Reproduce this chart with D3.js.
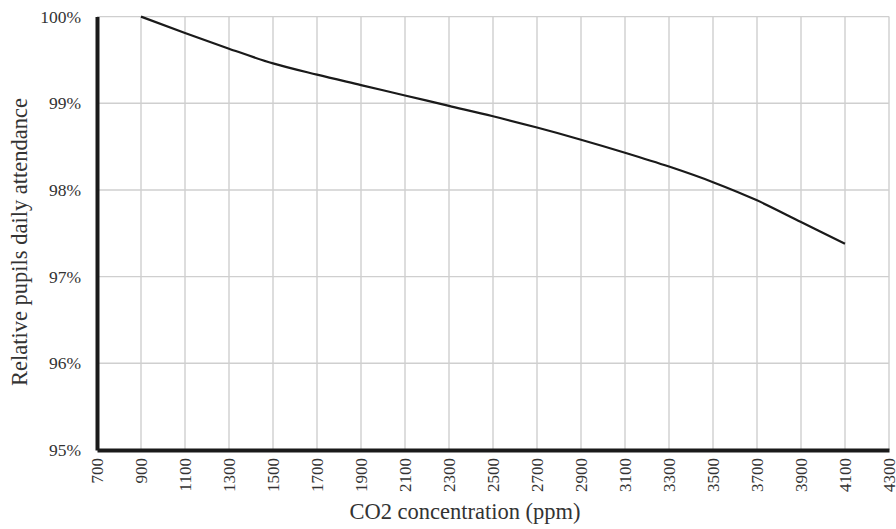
<!DOCTYPE html>
<html>
<head>
<meta charset="utf-8">
<script src="https://cdn.jsdelivr.net/npm/d3@7"></script>
<style>
body { margin: 0; background: #fff; }
text { font-family: "Liberation Serif", "DejaVu Serif", serif; fill: #333; }
</style>
</head>
<body>
<svg></svg>
<script>
const width = 896;
const height = 529;

// data
const co2 = [900, 1100, 1300, 1500, 1700, 1900, 2100, 2300, 2500, 2700, 2900, 3100, 3300, 3500, 3700, 3900, 4100];
const attendance = [100, 99.81, 99.63, 99.46, 99.33, 99.21, 99.09, 98.97, 98.85, 98.72, 98.58, 98.43, 98.27, 98.09, 97.88, 97.63, 97.38];
const xTicks = d3.range(700, 4301, 200);
const yTicks = [95, 96, 97, 98, 99, 100];

const margin = {left: 97, right: 7, top: 16.6, bottom: 79};

const svg = d3.select('svg')
    .attr('width', width).attr('height', height);

const x = d3.scaleLinear().domain([700, 4300]).range([margin.left, width - margin.right]);
const y = d3.scaleLinear().domain([95, 100]).range([height - margin.bottom, margin.top]);

// grid
svg.append('g')
    .selectAll('line')
    .data(xTicks.slice(1))
    .enter().append('line')
    .attr('x1', d => x(d)).attr('x2', d => x(d))
    .attr('y1', y(100)).attr('y2', y(95))
    .style('stroke', '#cfcfcf').style('stroke-width', 1.4);

svg.append('g')
    .selectAll('line')
    .data(yTicks.slice(1))
    .enter().append('line')
    .attr('x1', x(700)).attr('x2', x(4300))
    .attr('y1', d => y(d)).attr('y2', d => y(d))
    .style('stroke', '#cfcfcf').style('stroke-width', 1.4);

// axes
const yAxis = svg.append('g')
    .attr('transform', `translate(${x(700)},0)`)
    .call(d3.axisLeft(y).tickValues(yTicks).tickSize(0).tickPadding(16).tickFormat(d => d + '%'));
yAxis.select('.domain').style('stroke', '#1a1a1a').style('stroke-width', 4);
yAxis.selectAll('text').style('font-size', '17.5px').style('font-family', '"Liberation Serif", serif').attr('fill', '#333');

const xAxis = svg.append('g')
    .attr('transform', `translate(0,${y(95)})`)
    .call(d3.axisBottom(x).tickValues(xTicks).tickSize(0).tickFormat(d3.format('d')));
xAxis.select('.domain').style('stroke', '#1a1a1a').style('stroke-width', 4);
xAxis.selectAll('text')
    .style('font-size', '17px').style('font-family', '"Liberation Serif", serif').attr('fill', '#333')
    .attr('text-anchor', 'end')
    .attr('transform', 'rotate(-90)')
    .attr('x', -8).attr('y', 0).attr('dy', '0.35em');

// curve
const line = d3.line()
    .x((d, i) => x(co2[i]))
    .y(d => y(d))
    .curve(d3.curveMonotoneX);

svg.append('path')
    .datum(attendance)
    .attr('d', line)
    .style('fill', 'none')
    .style('stroke', '#1a1a1a')
    .style('stroke-width', 2.2);

// titles
svg.append('text')
    .attr('x', 465)
    .attr('y', 519)
    .attr('text-anchor', 'middle')
    .style('font-size', '22.5px')
    .text('CO2 concentration (ppm)');

svg.append('text')
    .attr('transform', `translate(27,242) rotate(-90)`)
    .attr('text-anchor', 'middle')
    .style('font-size', '22.5px')
    .text('Relative pupils daily attendance');
</script>
</body>
</html>
